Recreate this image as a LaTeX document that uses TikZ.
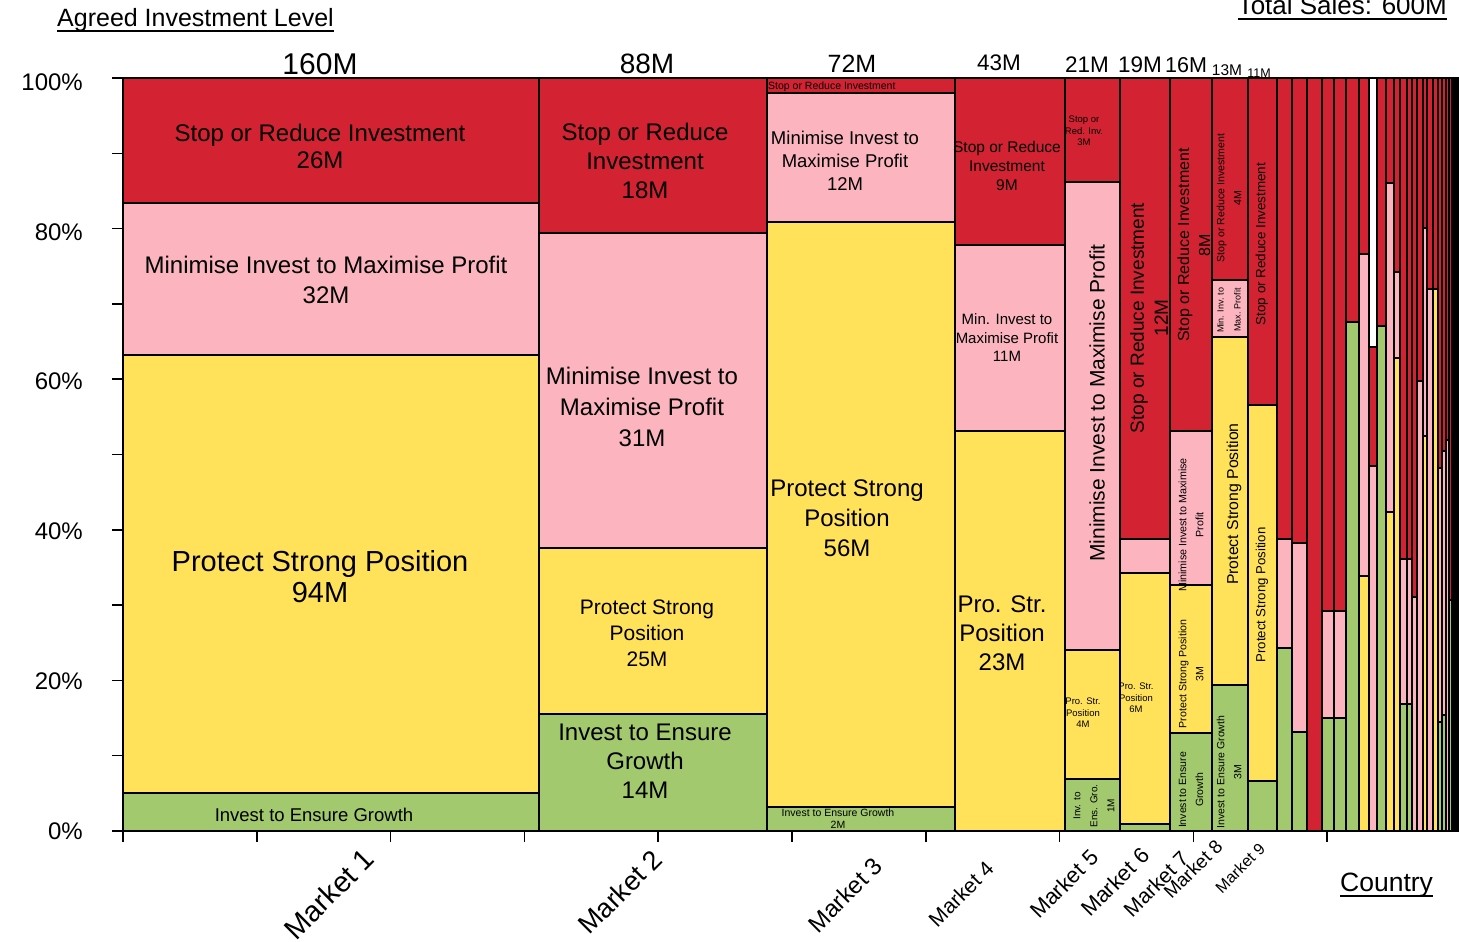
\documentclass[tikz,border=0pt]{standalone}
\usepackage{fontspec}
\setmainfont{Liberation Sans}
\definecolor{cR}{RGB}{211,35,51}
\definecolor{cP}{RGB}{252,181,191}
\definecolor{cY}{RGB}{255,226,90}
\definecolor{cG}{RGB}{162,201,110}
\newcommand\fsz[2]{\fontsize{#1}{#2}\selectfont}
\tikzset{
  sr/.style={fill=cR,draw=black,line width=1.7pt},
  sp/.style={fill=cP,draw=black,line width=1.7pt},
  sy/.style={fill=cY,draw=black,line width=1.7pt},
  sg/.style={fill=cG,draw=black,line width=1.7pt},
  sw/.style={fill=white,draw=black,line width=1.7pt},
  lbl/.style={inner sep=0pt,align=center,text=black},
  rl/.style={lbl,rotate=90},
  mk/.style={inner sep=0pt,rotate=45},
  ax/.style={draw=black,line width=1.5pt},
  uline/.style={draw=black,line width=2pt}
}
\begin{document}
\begin{tikzpicture}[x=1pt,y=-1pt]
\useasboundingbox (0,0) rectangle (1459,942);
% ---------- Market 1
\draw[sr] (123,78) rectangle (539,203);
\draw[sp] (123,203) rectangle (539,355);
\draw[sy] (123,355) rectangle (539,793);
\draw[sg] (123,793) rectangle (539,831);
% ---------- Market 2
\draw[sr] (539,78) rectangle (767,233);
\draw[sp] (539,233) rectangle (767,548);
\draw[sy] (539,548) rectangle (767,714);
\draw[sg] (539,714) rectangle (767,831);
% ---------- Market 3
\draw[sr] (767,78) rectangle (955,93);
\draw[sp] (767,93) rectangle (955,222);
\draw[sy] (767,222) rectangle (955,807);
\draw[sg] (767,807) rectangle (955,831);
% ---------- Market 4
\draw[sr] (955,78) rectangle (1065,245);
\draw[sp] (955,245) rectangle (1065,431);
\draw[sy] (955,431) rectangle (1065,831);
% ---------- Market 5
\draw[sr] (1065,78) rectangle (1120,182);
\draw[sp] (1065,182) rectangle (1120,650);
\draw[sy] (1065,650) rectangle (1120,779);
\draw[sg] (1065,779) rectangle (1120,831);
% ---------- Market 6
\draw[sr] (1120,78) rectangle (1170,539);
\draw[sp] (1120,539) rectangle (1170,573);
\draw[sy] (1120,573) rectangle (1170,824);
\draw[sg] (1120,824) rectangle (1170,831);
% ---------- Market 7
\draw[sr] (1170,78) rectangle (1212,431);
\draw[sp] (1170,431) rectangle (1212,585);
\draw[sy] (1170,585) rectangle (1212,733);
\draw[sg] (1170,733) rectangle (1212,831);
% ---------- Market 8
\draw[sr] (1212,78) rectangle (1248,280);
\draw[sp] (1212,280) rectangle (1248,337);
\draw[sy] (1212,337) rectangle (1248,685);
\draw[sg] (1212,685) rectangle (1248,831);
% ---------- Market 9
\draw[sr] (1248,78) rectangle (1277,405);
\draw[sy] (1248,405) rectangle (1277,781);
\draw[sg] (1248,781) rectangle (1277,831);
% ---------- small countries
\draw[sr] (1277,78) rectangle (1292,539); \draw[sp] (1277,539) rectangle (1292,648); \draw[sg] (1277,648) rectangle (1292,831);
\draw[sr] (1292,78) rectangle (1307,543); \draw[sp] (1292,543) rectangle (1307,732); \draw[sg] (1292,732) rectangle (1307,831);
\draw[sr] (1307,78) rectangle (1322,831);
\draw[sr] (1322,78) rectangle (1334,611); \draw[sp] (1322,611) rectangle (1334,718); \draw[sg] (1322,718) rectangle (1334,831);
\draw[sr] (1334,78) rectangle (1346,611); \draw[sp] (1334,611) rectangle (1346,718); \draw[sg] (1334,718) rectangle (1346,831);
\draw[sr] (1346,78) rectangle (1359,322); \draw[sg] (1346,322) rectangle (1359,831);
\draw[sr] (1359,78) rectangle (1369,254); \draw[sp] (1359,254) rectangle (1369,576); \draw[sy] (1359,576) rectangle (1369,831);
\draw[sw] (1369,78) rectangle (1377,347); \draw[sr] (1369,347) rectangle (1377,466); \draw[sp] (1369,466) rectangle (1377,831);
\draw[sr] (1377,78) rectangle (1386,326); \draw[sg] (1377,326) rectangle (1386,831);
\draw[sr] (1386,78) rectangle (1394,183); \draw[sp] (1386,183) rectangle (1394,512); \draw[sy] (1386,512) rectangle (1394,831);
\draw[sr] (1394,78) rectangle (1400,272); \draw[sp] (1394,272) rectangle (1400,358); \draw[sy] (1394,358) rectangle (1400,831);
\draw[sr] (1400,78) rectangle (1407,559); \draw[sp] (1400,559) rectangle (1407,704); \draw[sg] (1400,704) rectangle (1407,831);
\draw[sr] (1407,78) rectangle (1412,559); \draw[sp] (1407,559) rectangle (1412,704); \draw[sg] (1407,704) rectangle (1412,831);
\draw[sr] (1412,78) rectangle (1417,597); \draw[sp] (1412,597) rectangle (1417,831);
\draw[sr] (1417,78) rectangle (1423,381); \draw[sp] (1417,381) rectangle (1423,831);
\draw[sr] (1423,78) rectangle (1427,228); \draw[sp] (1423,228) rectangle (1427,436); \draw[sy] (1423,436) rectangle (1427,831);
\draw[sr] (1427,78) rectangle (1433,289); \draw[sp] (1427,289) rectangle (1433,831);
\draw[sr] (1433,78) rectangle (1438,289); \draw[sy] (1433,289) rectangle (1438,831);
\draw[sr] (1438,78) rectangle (1442,468); \draw[sp] (1438,468) rectangle (1442,722); \draw[sg] (1438,722) rectangle (1442,831);
\draw[sr] (1442,78) rectangle (1446,451); \draw[sp] (1442,451) rectangle (1446,715); \draw[sg] (1442,715) rectangle (1446,831);
\draw[sr] (1446,78) rectangle (1449,440); \draw[sp] (1446,440) rectangle (1449,831);
\draw[sr] (1449,78) rectangle (1452,600); \draw[sg] (1449,600) rectangle (1452,831);
\draw[sr] (1452,78) rectangle (1454,831);
\draw[sr] (1454,78) rectangle (1456,831);
\draw[sr] (1456,78) rectangle (1458,831);
% ---------- axes ticks
\foreach \k in {0,...,10} \draw[ax] (112,{78+75.3*\k}) -- (123,{78+75.3*\k});
\foreach \k in {0,...,9} \draw[ax] ({123+133.8*\k},831) -- ({123+133.8*\k},842);
% ---------- labels Market 1
\node[lbl,font=\fsz{24}{27}] (m1r) at (320,146) {Stop or Reduce Investment\\26M};
\node[lbl,font=\fsz{24}{30}] (m1p) at (326,280) {Minimise Invest to Maximise Profit\\32M};
\node[lbl,font=\fsz{29}{31}] (m1y) at (320,577) {Protect Strong Position\\94M};
\node[lbl,font=\fsz{18.5}{22}] (m1g) at (314,815) {Invest to Ensure Growth};
% Market 2
\node[lbl,font=\fsz{24}{29}] (m2r) at (645,161) {Stop or Reduce\\Investment\\18M};
\node[lbl,font=\fsz{24}{31}] (m2p) at (642,407) {Minimise Invest to\\Maximise Profit\\31M};
\node[lbl,font=\fsz{21}{26}] (m2y) at (647,633) {Protect Strong\\Position\\25M};
\node[lbl,font=\fsz{24}{29}] (m2g) at (645,761) {Invest to Ensure\\Growth\\14M};
% Market 3
\node[lbl,anchor=west,font=\fsz{10.5}{12}] (m3r) at (768,87) {Stop or Reduce Investment};
\node[lbl,font=\fsz{18.5}{23}] (m3p) at (845,161) {Minimise Invest to\\Maximise Profit\\12M};
\node[lbl,font=\fsz{24}{30}] (m3y) at (847,518) {Protect Strong\\Position\\56M};
\node[lbl,font=\fsz{10.5}{12}] (m3g) at (838,819) {Invest to Ensure Growth\\2M};
% Market 4
\node[lbl,font=\fsz{15.5}{19}] (m4r) at (1007,166) {Stop or Reduce\\Investment\\9M};
\node[lbl,font=\fsz{15}{18.5}] (m4p) at (1007,338) {Min. Invest to\\Maximise Profit\\11M};
\node[lbl,font=\fsz{24}{29}] (m4y) at (1002,633) {Pro. Str.\\Position\\23M};
% Market 5
\node[lbl,font=\fsz{9.5}{11.5}] (m5r) at (1084,131) {Stop or\\Red. Inv.\\3M};
\node[rl,font=\fsz{21}{25}] (m5p) at (1097,403) {Minimise Invest to Maximise Profit};
\node[lbl,font=\fsz{9.5}{11.5}] (m5y) at (1083,713) {Pro. Str.\\Position\\4M};
\node[rl,font=\fsz{10}{17}] (m5g) at (1094,806) {Inv. to\\Ens. Gro.\\1M};
% Market 6
\node[rl,font=\fsz{19}{24}] (m6r) at (1149,318) {Stop or Reduce Investment\\12M};
\node[lbl,font=\fsz{9.5}{11.5}] (m6y) at (1136,698) {Pro. Str.\\Position\\6M};
% Market 7
\node[rl,font=\fsz{16}{21}] (m7r) at (1194,245) {Stop or Reduce Investment\\8M};
\node[rl,font=\fsz{10.7}{17}] (m7p) at (1191,525) {Minimise Invest to Maximise\\Profit};
\node[rl,font=\fsz{10.6}{17}] (m7y) at (1191,674) {Protect Strong Position\\3M};
\node[rl,font=\fsz{10.5}{17}] (m7g) at (1191,790) {Invest to Ensure\\Growth};
% Market 8
\node[rl,font=\fsz{10.6}{17}] (m8r) at (1229,198) {Stop or Reduce Investment\\4M};
\node[rl,font=\fsz{9}{17}] (m8p) at (1229,310) {Min. Inv. to\\Max. Profit};
\node[rl,font=\fsz{15.8}{19}] (m8y) at (1234,504) {Protect Strong Position};
\node[rl,font=\fsz{10.5}{17}] (m8g) at (1229,772) {Invest to Ensure Growth\\3M};
% Market 9
\node[rl,font=\fsz{13.4}{16}] (m9r) at (1262,244) {Stop or Reduce Investment};
\node[rl,font=\fsz{13.2}{16}] (m9y) at (1262,595) {Protect Strong Position};
% ---------- column totals
\node[lbl,font=\fsz{30}{32}] (h1) at (320,64) {160M};
\node[lbl,font=\fsz{28}{30}] (h2) at (647,64) {88M};
\node[lbl,font=\fsz{25}{28}] (h3) at (852,64) {72M};
\node[lbl,font=\fsz{22.5}{25}] (h4) at (999,63) {43M};
\node[lbl,font=\fsz{22.5}{25}] (h5) at (1087,65) {21M};
\node[lbl,font=\fsz{22.5}{25}] (h6) at (1140,65) {19M};
\node[lbl,font=\fsz{21.5}{25}] (h7) at (1186,65) {16M};
\node[lbl,font=\fsz{15.5}{18}] (h8) at (1227,70) {13M};
\node[lbl,font=\fsz{12.5}{15}] (h9) at (1259,73) {11M};
% ---------- y labels
\node[lbl,anchor=east,font=\fsz{24}{28}] (y100) at (83,82) {100\%};
\node[lbl,anchor=east,font=\fsz{24}{28}] (y80) at (83,232) {80\%};
\node[lbl,anchor=east,font=\fsz{24}{28}] (y60) at (83,381) {60\%};
\node[lbl,anchor=east,font=\fsz{24}{28}] (y40) at (83,531) {40\%};
\node[lbl,anchor=east,font=\fsz{24}{28}] (y20) at (83,681) {20\%};
\node[lbl,anchor=east,font=\fsz{24}{28}] (y0) at (83,831) {0\%};
% ---------- x labels
\node[mk,font=\fsz{29}{32}] (x1) at (329,894) {Market 1};
\node[mk,font=\fsz{27}{30}] (x2) at (620,892) {Market 2};
\node[mk,font=\fsz{24}{28}] (x3) at (845,895) {Market 3};
\node[mk,font=\fsz{21}{25}] (x4) at (961,894) {Market 4};
\node[mk,font=\fsz{22}{25}] (x5) at (1064,884) {Market 5};
\node[mk,font=\fsz{22}{25}] (x6) at (1115,882) {Market 6};
\node[mk,font=\fsz{21}{25}] (x7) at (1156,884) {Market 7};
\node[mk,font=\fsz{19}{22}] (x8) at (1193,869) {Market 8};
\node[mk,font=\fsz{16}{19}] (x9) at (1240,868) {Market 9};
% ---------- titles
\node[inner sep=0pt,anchor=base west,font=\fsz{25}{28}] (t1) at (57,27) {Agreed Investment Level};
\draw[uline] ([yshift=-4.5pt]t1.base west) -- ([yshift=-4.5pt]t1.base east);
\node[inner sep=0pt,anchor=base east,font=\fsz{26}{29}] (t2) at (1447,15) {Total Sales: 600M};
\draw[uline] ([yshift=-4pt]t2.base west) -- ([yshift=-4pt]t2.base east);
\node[inner sep=0pt,anchor=base west,font=\fsz{26.5}{29}] (t3) at (1340,891) {Country};
\draw[uline] ([yshift=-4.5pt]t3.base west) -- ([yshift=-4.5pt]t3.base east);
\end{tikzpicture}
\end{document}
